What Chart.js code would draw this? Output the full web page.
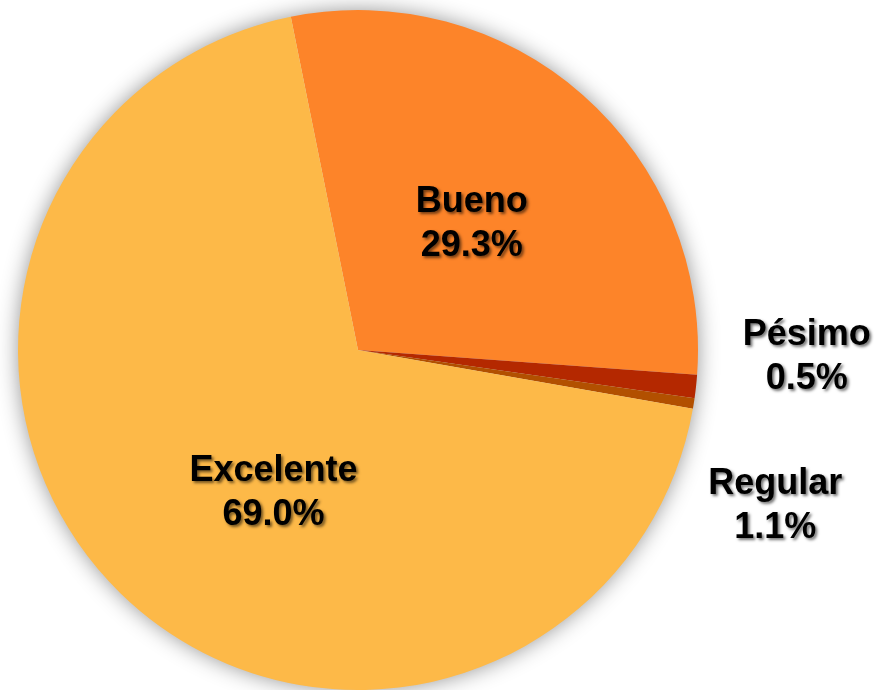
<!DOCTYPE html>
<html>
<head>
<meta charset="utf-8">
<script src="https://cdn.jsdelivr.net/npm/chart.js@4"></script>
<style>
  body { margin: 0; background: #fff; }
  #wrap { width: 881px; height: 690px; }
</style>
</head>
<body>
<div id="wrap"><canvas id="pieChart" width="881" height="690"></canvas></div>
<script>
// DATA
let labels = ["Bueno", "Regular", "Pésimo", "Excelente"];
let values = [29.3, 1.1, 0.5, 69.0];
let colors = ["#FD8429", "#B42800", "#B25000", "#FDB948"];

// label placement around the pie: [angle from top (deg), radius factor]
let labelPos = [[42, 0.5], [110.5, 1.31], [90.9, 1.32], [210.5, 0.49]];

// soft gray glow behind the pie
const pieShadow = {
    id: "pieShadow",
    beforeDatasetsDraw(chart) {
        let arc = chart.getDatasetMeta(0).data[0];
        let ctx = chart.ctx;
        ctx.save();
        ctx.shadowColor = "rgba(0,0,0,0.45)";
        ctx.shadowBlur = 22;
        ctx.fillStyle = "#ddd";
        ctx.beginPath();
        ctx.arc(arc.x, arc.y, arc.outerRadius - 1, 0, Math.PI * 2);
        ctx.fill();
        ctx.restore();
    }
};

// LABELS
const sliceLabels = {
    id: "sliceLabels",
    afterDatasetsDraw(chart) {
        let ctx = chart.ctx;
        let meta = chart.getDatasetMeta(0);
        meta.data.forEach((arc, i) => {
            let a = labelPos[i][0] * Math.PI / 180;
            let r = arc.outerRadius * labelPos[i][1];
            let x = arc.x + r * Math.sin(a);
            let y = arc.y - r * Math.cos(a);
            ctx.save();
            ctx.font = "bold 36px 'Liberation Sans', Arial, sans-serif";
            ctx.textAlign = "center";
            ctx.textBaseline = "middle";
            ctx.fillStyle = "#000";
            ctx.shadowColor = "rgba(0,0,0,0.55)";
            ctx.shadowOffsetX = 2;
            ctx.shadowOffsetY = 2;
            ctx.shadowBlur = 3;
            ctx.fillText(labels[i], x, y - 22);
            ctx.fillText(values[i].toFixed(1) + "%", x, y + 22);
            ctx.restore();
        });
    }
};

new Chart(document.getElementById("pieChart"), {
    type: "pie",
    data: {
        labels: labels,
        datasets: [{
            data: values,
            backgroundColor: colors,
            borderWidth: 0
        }]
    },
    options: {
        responsive: false,
        animation: false,
        rotation: -11.4,
        layout: { padding: { left: 18, right: 183, top: 10, bottom: 0 } },
        plugins: {
            legend: { display: false },
            tooltip: { enabled: false }
        }
    },
    plugins: [pieShadow, sliceLabels]
});
</script>
</body>
</html>
